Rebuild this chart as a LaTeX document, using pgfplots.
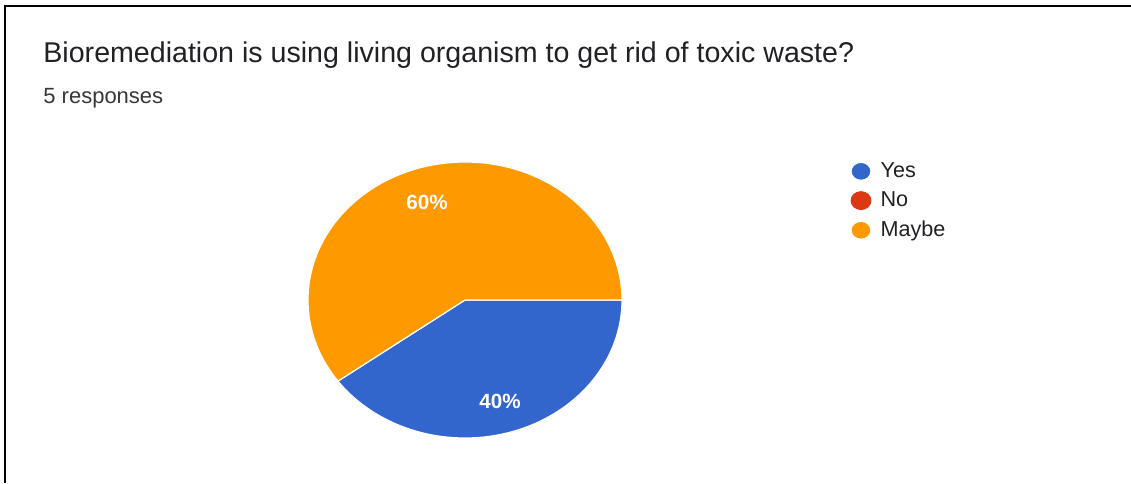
\documentclass[border=0pt]{standalone}
\usepackage{pgfplots}
\usepackage{pgfplotstable}
\pgfplotsset{compat=1.18}
\usepackage{fontspec}
\setmainfont{Liberation Sans}
\definecolor{cYes}{HTML}{3366CC}
\definecolor{cNo}{HTML}{DC3912}
\definecolor{cMaybe}{HTML}{FF9900}
\definecolor{txt}{HTML}{202124}
\pgfplotstableread{
label pct
Yes 40
No 0
Maybe 60
}\piedata
\pgfplotstablegetelem{0}{pct}\of\piedata \edef\pYes{\pgfplotsretval}
\pgfplotstablegetelem{1}{pct}\of\piedata \edef\pNo{\pgfplotsretval}
\pgfplotstablegetelem{2}{pct}\of\piedata \edef\pMaybe{\pgfplotsretval}
\begin{document}
\begin{tikzpicture}
\begin{axis}[name=ax,
  scale only axis, width=565.5pt, height=241.5pt,
  xmin=0, xmax=1131, ymin=0, ymax=483, y dir=reverse,
  hide axis, clip=false,
  legend style={at={(axis cs:850,158)}, anchor=north west, draw=none, fill=none,
    font=\fontsize{10.8}{12}\selectfont, text=txt, row sep=1.7pt, inner sep=0pt,
    /tikz/every even column/.append style={column sep=0pt}},
  legend cell align=left,
  legend image code/.code={\fill[#1] (0.25em,0pt) ellipse (5pt and 4.5pt);},
]
% frame
\addplot[black, line width=1pt, forget plot] coordinates {(5,483) (5,6) (1131,6)};
% Yes slice
\addplot[fill=cYes, draw=white, line width=0.6pt, domain=0:-3.6*\pYes, samples=120, variable=\t]
  ({465+157*cos(\t)},{300-138*sin(\t)}) -- (axis cs:465,300) -- cycle;
\addlegendentry{\hspace{2.5pt}Yes}
\addlegendimage{cNo}
\addlegendentry{\hspace{2.5pt}No}
\addplot[fill=cMaybe, draw=white, line width=0.6pt, domain=-3.6*\pYes-3.6*\pNo:-360, samples=160, variable=\t]
  ({465+157*cos(\t)},{300-138*sin(\t)}) -- (axis cs:465,300) -- cycle;
\addlegendentry{\hspace{2.5pt}Maybe}
\node[anchor=west, text=txt, font=\fontsize{14.3}{16}\selectfont, inner sep=0pt] at (axis cs:43,55) {Bioremediation is using living organism to get rid of toxic waste?};
\node[anchor=west, text=txt!90, font=\fontsize{11}{12}\selectfont, inner sep=0pt] at (axis cs:43,98) {5 responses};
\node[text=white, font=\bfseries\fontsize{10.3}{12}\selectfont] at (axis cs:427,202) {\pMaybe\%};
\node[text=white, font=\bfseries\fontsize{10.3}{12}\selectfont] at (axis cs:500,401) {\pYes\%};
\end{axis}
\pgfresetboundingbox
\path[use as bounding box] (ax.south west) rectangle (ax.north east);
\end{tikzpicture}
\end{document}
